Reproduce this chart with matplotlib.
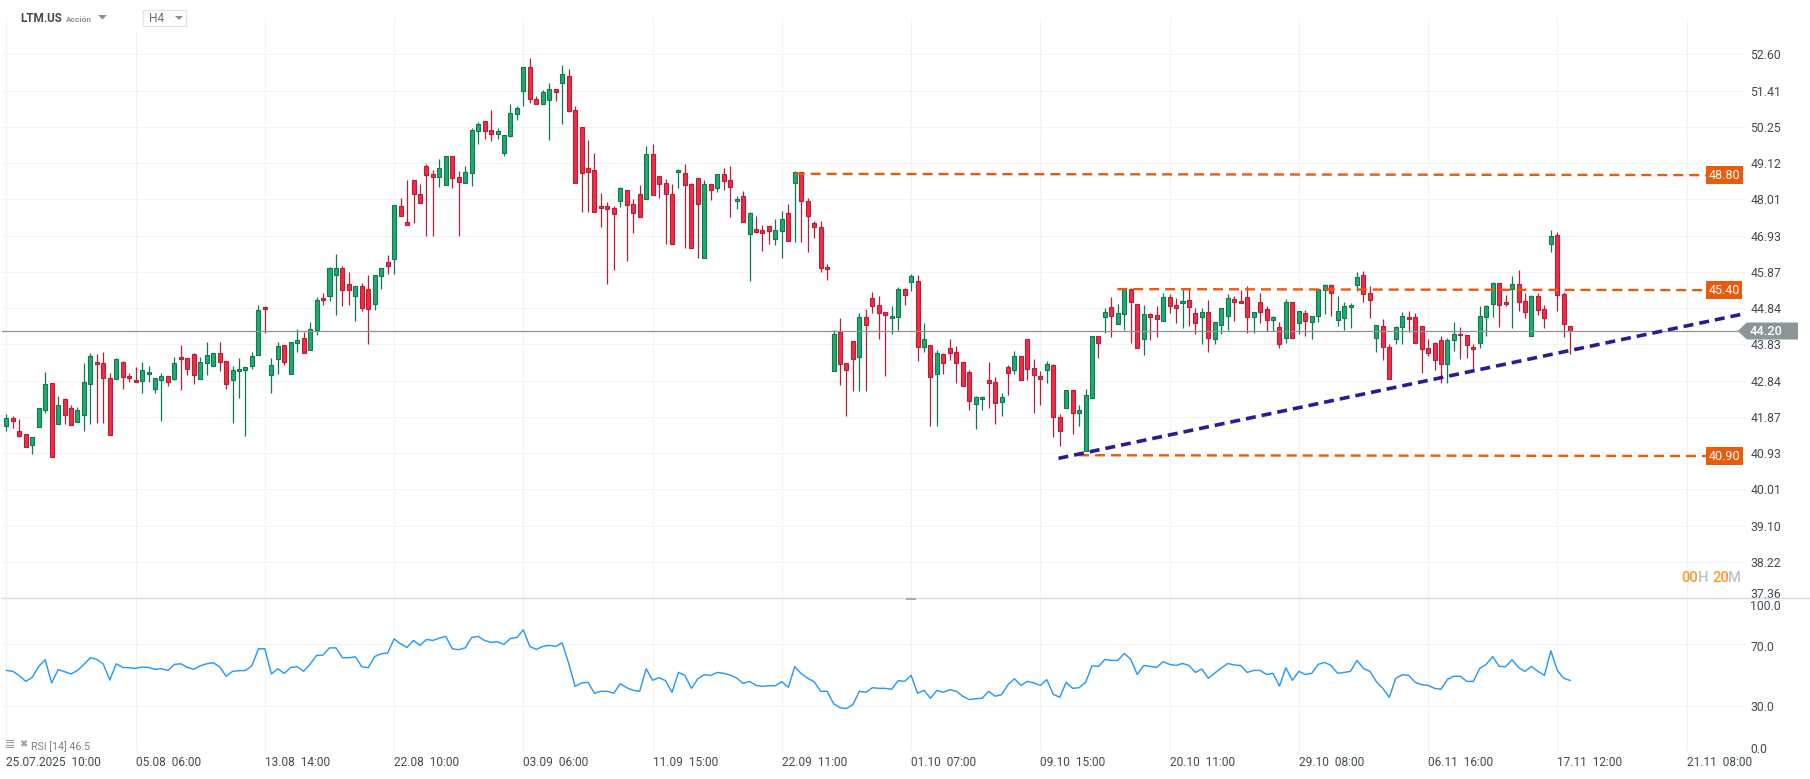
# -*- coding: utf-8 -*-
import numpy as np
import matplotlib
matplotlib.use('Agg')
import matplotlib.pyplot as plt
from matplotlib.patches import Polygon, Rectangle
from matplotlib.transforms import ScaledTranslation

opens = [41.64,41.84,41.50,41.43,41.14,41.61,42.06,42.79,41.69,42.35,
         42.11,41.74,41.92,42.76,43.35,43.32,42.92,42.90,43.35,42.98,
         42.87,42.84,43.03,42.62,42.87,42.98,42.90,43.48,43.46,43.56,
         42.90,43.32,43.24,43.59,43.38,42.87,43.11,43.14,43.24,43.54,
         44.87,43.00,43.43,43.80,43.03,43.86,44.02,43.67,44.22,45.13,
         45.19,45.78,45.98,45.53,45.19,45.47,45.39,44.95,45.76,46.16,
         46.25,47.80,47.32,48.59,48.16,49.03,48.78,48.69,48.44,49.33,
         48.69,48.50,48.81,50.13,50.44,50.16,50.04,49.42,49.96,50.67,
         51.41,52.17,51.15,50.99,51.12,51.47,51.64,51.87,50.80,50.25,
         48.97,48.90,47.80,47.80,47.74,47.95,48.29,47.86,48.16,48.01,
         49.39,48.72,48.50,48.19,48.84,48.81,48.47,48.66,46.27,48.47,
         48.35,48.78,48.59,47.95,48.10,46.99,47.14,47.11,47.22,46.84,
         47.08,47.59,48.50,48.84,47.95,47.29,47.20,46.01,43.11,44.16,
         43.32,43.92,43.48,44.59,45.13,44.93,44.73,44.56,44.59,45.39,
         45.59,45.61,43.75,43.80,43.03,43.56,43.72,43.62,43.35,43.08,
         42.22,42.35,42.87,42.81,42.27,43.22,43.14,43.51,43.99,43.19,
         42.98,43.14,43.27,41.87,42.11,42.60,41.97,40.98,42.38,44.05,
         44.59,44.87,44.39,44.67,45.39,44.95,43.97,44.67,44.64,44.47,
         45.16,44.93,44.98,45.07,44.70,44.59,44.73,43.99,44.36,44.61,
         45.10,45.04,45.16,44.59,45.01,44.81,44.50,44.30,44.02,45.01,
         44.42,44.70,44.45,44.61,45.36,45.50,44.50,44.56,44.87,45.50,
         45.78,45.27,44.02,44.33,43.75,43.97,44.30,44.59,44.59,44.33,
         43.72,43.86,43.94,43.30,43.94,44.13,44.10,43.75,43.86,44.59,
         44.95,45.56,45.01,45.39,45.53,45.04,44.05,45.19,44.81,46.67,
         46.96,45.24,44.33]

highs = [41.95,41.91,41.82,41.43,41.35,42.11,43.08,42.79,42.43,42.38,
         42.19,42.14,43.31,43.59,43.57,43.63,43.04,43.46,43.38,43.04,
         43.20,43.35,43.24,42.92,43.06,42.98,43.48,43.80,43.46,43.59,
         43.48,43.90,43.59,43.90,43.38,43.24,43.46,43.22,43.62,44.93,
         44.90,43.46,43.90,43.80,43.89,44.25,44.18,44.45,45.16,45.27,
         46.01,46.39,46.04,45.87,45.47,45.56,45.78,45.78,45.98,46.36,
         47.83,48.04,48.59,48.59,48.47,49.09,48.90,49.24,49.33,49.33,
         48.87,49.03,50.22,50.41,50.44,50.80,50.22,50.01,50.99,50.90,
         52.17,52.47,51.25,51.44,51.64,51.47,52.24,52.11,50.90,50.25,
         49.85,49.42,48.22,47.92,47.80,48.38,48.29,48.01,48.44,49.64,
         49.70,48.72,48.63,48.47,48.93,49.09,48.50,48.66,48.59,48.47,
         48.78,48.97,49.03,48.10,48.26,47.62,47.50,47.26,47.22,47.41,
         47.65,47.86,48.87,48.84,48.04,47.35,47.35,46.10,44.22,44.56,
         43.32,43.92,44.70,44.81,45.30,45.19,44.73,44.90,45.44,45.41,
         45.81,45.78,44.42,43.80,43.67,43.59,43.98,43.78,43.35,43.14,
         42.43,42.43,43.35,42.95,42.52,43.27,43.64,43.51,43.99,43.43,
         43.11,43.38,43.30,41.95,42.60,42.60,42.19,42.62,44.05,44.05,
         44.84,45.16,44.95,45.41,45.41,44.95,44.93,44.70,44.90,45.27,
         45.24,45.13,45.39,45.41,44.84,44.84,45.07,44.45,44.84,45.24,
         45.19,45.36,45.47,44.73,45.27,44.90,44.61,44.45,45.10,45.01,
         44.76,44.78,44.61,45.39,45.53,45.53,45.19,45.01,44.98,45.87,
         45.90,45.47,44.36,44.53,43.83,44.33,44.73,44.76,44.70,44.33,
         43.98,43.89,44.05,44.02,44.45,44.30,44.10,43.83,44.90,44.93,
         45.59,45.56,45.21,45.76,45.93,45.27,45.21,45.27,44.93,47.11,
         47.05,45.30,44.33]

lows = [41.50,41.59,41.34,41.09,40.92,41.61,41.97,40.83,41.69,41.70,
        41.66,41.74,41.50,41.70,41.73,41.73,41.40,42.90,42.62,42.81,
        42.81,42.51,42.80,42.51,41.78,42.70,42.86,42.59,42.99,42.75,
        42.90,42.99,43.24,43.10,42.62,41.73,42.37,41.37,43.15,43.54,
        44.15,42.51,43.02,43.26,43.03,43.63,43.59,43.67,44.10,44.92,
        45.03,44.64,44.89,44.94,44.49,44.75,43.85,44.80,45.38,45.80,
        45.80,47.50,47.26,47.31,47.89,46.92,46.92,48.40,48.44,48.37,
        46.92,48.50,48.43,49.72,49.87,49.81,49.87,49.35,49.93,50.47,
        50.92,51.01,50.99,50.99,49.84,51.08,50.34,50.73,48.50,47.64,
        47.64,47.62,47.19,45.52,45.92,47.79,46.18,47.01,47.47,48.01,
        48.13,48.06,46.69,46.67,48.37,46.58,46.56,46.29,46.27,48.00,
        48.24,48.30,47.49,47.73,47.32,45.60,47.01,46.49,46.69,46.66,
        46.29,46.76,46.75,46.75,46.44,46.86,45.86,45.63,43.11,42.72,
        41.91,42.56,42.56,42.56,44.71,43.99,42.97,44.13,44.24,44.94,
        45.32,43.38,43.61,41.63,41.63,43.03,43.40,42.78,42.71,42.05,
        41.57,42.05,42.10,41.70,41.89,42.45,43.03,42.87,42.86,41.97,
        42.19,42.78,41.34,41.13,42.11,41.44,41.65,40.98,42.38,43.45,
        44.15,44.04,44.39,44.24,43.88,43.72,43.55,43.96,44.04,44.47,
        44.69,44.41,44.27,44.35,44.11,43.85,43.63,43.85,44.11,44.24,
        44.49,44.98,44.14,44.14,44.41,44.19,44.19,43.74,43.88,44.02,
        44.13,44.07,43.99,44.46,44.67,44.63,44.35,44.24,44.29,45.32,
        45.00,44.55,43.63,43.39,42.90,43.85,43.85,44.16,43.86,43.05,
        43.50,43.13,42.79,42.79,43.66,43.42,43.45,43.14,43.74,44.07,
        44.60,44.32,44.90,44.29,44.77,44.55,44.05,44.66,44.27,46.46,
        44.75,44.04,43.56]

closes = [41.84,41.77,41.39,41.09,41.35,42.11,42.76,40.83,42.19,41.92,
          41.66,42.06,42.81,43.51,43.30,42.92,41.40,43.43,42.95,42.92,
          42.81,43.14,43.08,42.92,42.98,42.81,43.32,43.43,43.16,43.00,
          43.35,43.54,43.59,43.35,42.76,43.14,43.16,43.22,43.51,44.78,
          44.81,43.27,43.78,43.35,43.89,43.94,43.59,44.25,45.07,45.06,
          45.98,45.98,45.36,45.36,45.47,44.84,44.81,45.78,45.98,46.04,
          47.83,47.50,47.26,48.16,47.89,48.75,48.69,48.97,49.33,48.66,
          48.55,48.84,50.16,50.35,50.13,50.04,50.13,50.01,50.70,50.86,
          52.17,51.15,50.99,51.35,51.47,51.38,51.94,50.77,48.50,48.81,
          48.84,47.62,47.74,47.71,47.56,48.35,47.83,47.59,47.47,49.39,
          48.13,48.47,48.16,46.67,48.90,48.44,46.56,47.86,48.47,48.31,
          48.78,48.56,48.38,48.01,47.32,47.59,47.05,47.01,47.08,47.11,
          47.41,46.76,48.84,47.95,47.50,47.20,45.98,45.96,44.12,43.30,
          43.14,43.43,44.59,44.36,44.90,44.70,44.64,44.61,45.39,45.21,
          45.76,43.75,43.99,42.95,43.59,43.32,43.59,43.32,42.71,42.30,
          42.41,42.41,42.79,42.25,42.41,43.06,43.51,42.87,43.16,43.00,
          42.90,43.30,41.87,41.50,42.60,41.97,42.06,42.46,44.05,43.86,
          44.73,44.61,44.70,45.39,45.01,43.72,44.67,44.59,44.53,45.16,
          44.90,44.84,45.04,44.87,44.42,44.73,44.02,44.45,44.84,45.13,
          45.01,44.98,44.59,44.73,44.73,44.50,44.59,43.83,45.01,44.02,
          44.76,44.47,44.61,45.39,45.50,45.27,44.76,44.90,44.93,45.73,
          45.24,45.07,44.36,43.75,42.90,44.30,44.61,44.53,43.86,43.70,
          43.59,43.40,43.30,43.94,44.13,44.08,43.80,43.70,44.61,44.90,
          45.56,44.93,44.95,45.53,45.01,44.73,45.19,44.78,44.56,46.93,
          45.21,44.39,44.20]

rsi = [53.0,52.4,49.6,45.9,48.5,55.6,59.9,44.9,53.5,52.2,
       50.7,53.0,56.9,61.2,60.1,57.1,46.8,57.3,54.9,54.7,
       54.3,55.2,54.9,53.7,54.1,53.0,56.9,57.3,54.9,53.7,
       56.0,57.3,58.0,55.4,49.2,52.4,52.8,53.0,56.0,67.0,
       67.0,50.7,54.1,51.1,54.9,55.4,52.4,57.1,62.7,62.9,
       67.6,67.6,61.2,61.2,61.8,55.4,54.7,62.0,63.8,64.2,
       73.4,70.2,67.9,72.4,69.2,73.0,72.4,73.9,75.0,67.0,
       66.4,67.6,74.3,75.0,72.4,71.1,71.5,69.8,73.7,74.3,
       79.3,68.5,66.6,68.5,69.2,68.5,70.9,57.8,42.7,44.9,
       45.3,38.2,39.5,39.5,38.2,44.4,41.8,40.1,39.5,54.1,
       46.6,48.3,46.4,38.8,51.7,49.8,41.4,47.6,50.2,49.8,
       51.7,51.1,50.0,48.1,44.6,45.9,43.3,42.7,43.1,43.1,
       45.7,42.1,55.4,50.9,47.9,45.7,39.5,39.5,31.5,28.9,
       28.3,30.9,39.5,38.8,41.8,41.4,41.4,40.8,46.4,45.9,
       49.8,38.2,40.1,35.0,40.1,38.8,40.5,39.5,36.3,34.1,
       34.7,35.0,39.5,36.3,37.3,43.8,47.6,43.3,45.9,44.9,
       43.3,47.0,37.5,35.6,45.3,41.4,41.8,45.3,56.0,55.6,
       60.1,59.5,59.5,64.0,60.1,50.4,56.2,55.6,54.9,58.6,
       56.9,56.2,57.5,56.2,51.7,53.9,47.9,51.3,54.5,57.5,
       56.5,56.2,51.7,53.0,53.0,50.4,51.1,42.9,54.7,46.6,
       52.4,50.4,51.1,56.9,58.2,56.2,51.1,51.7,52.4,59.5,
       54.3,52.4,45.7,41.4,35.6,47.9,50.2,49.8,45.3,43.8,
       43.3,41.4,40.8,47.2,49.2,49.2,45.9,45.9,54.3,56.9,
       62.0,55.6,55.4,59.9,54.9,52.4,55.6,52.4,49.8,65.7,
       53.0,47.9,46.5]

price_ticks = [52.60, 51.41, 50.25, 49.12, 48.01, 46.93, 45.87, 44.84, 43.83,
               42.84, 41.87, 40.93, 40.01, 39.10, 38.22, 37.36]
rsi_ticks = [100, 70, 30, 0]
time_ticks = list(range(0, 261, 20))
time_labels = ['25.07.2025  10:00', '05.08  06:00', '13.08  14:00', '22.08  10:00',
               '03.09  06:00', '11.09  15:00', '22.09  11:00', '01.10  07:00',
               '09.10  15:00', '20.10  11:00', '29.10  08:00', '06.11  16:00',
               '17.11  12:00', '21.11  08:00']

last_price = 44.20
level_labels = ['48.80', '45.40', '40.90']
level_start_x = [122, 171.9, 166]
level_end_x = 263.0
level_start = [48.79, 45.38, 40.88]
level_end = [48.75, 45.35, 40.86]
trend_x = [162.8, 268.6]
trend_y = [40.80, 44.67]

W, H = 1810, 779
TXT = '#414b52'
plt.rcParams['font.family'] = ['Roboto', 'DejaVu Sans']
plt.rcParams['lines.scale_dashes'] = False


def rect_px(left, top, right, bottom):
    return [left / W, 1 - bottom / H, (right - left) / W, (bottom - top) / H]


def fx(x):
    return x / W


def fy(y):
    return 1 - y / H


fig = plt.figure(figsize=(W / 100, H / 100), dpi=100)
ax = fig.add_axes(rect_px(2, 18, 1746, 598.5))
ax2 = fig.add_axes(rect_px(2, 597.8, 1746, 752.3))

x = np.arange(len(opens))
o, h, l, c = map(np.array, (opens, highs, lows, closes))
up = c >= o

ax.vlines(x[up], l[up], h[up], color='#0f7a52', lw=0.9, zorder=2)
ax.vlines(x[~up], l[~up], h[~up], color='#b3203a', lw=0.9, zorder=2)
ax.bar(x[up], (c - o)[up], bottom=o[up], width=0.62, color='#20ab6e',
       edgecolor='#0f7a52', linewidth=0.8, zorder=3)
ax.bar(x[~up], (o - c)[~up], bottom=c[~up], width=0.62, color='#f82a40',
       edgecolor='#b3203a', linewidth=0.8, zorder=3)

ax.set_yscale('log')
ax.set_ylim(37.36, 53.81)
ax.set_xlim(-0.68, 269.2)
ax.set_yticks(price_ticks)
ax.set_yticklabels(['%.2f' % t for t in price_ticks])
ax.minorticks_off()
ax.set_xticks(time_ticks)
ax.tick_params(axis='x', length=0, labelbottom=False)
ax.yaxis.tick_right()
ax.tick_params(axis='y', which='both', length=0, pad=3, labelsize=8.8, labelcolor=TXT)
ax.grid(True, color='#f2f3f4', lw=0.8)
ax.set_axisbelow(True)
for s in ax.spines.values():
    s.set_visible(False)
ax.patch.set_alpha(0)

# the bottom label sits higher than its grid line
labs = ax.get_yticklabels()
labs[-1].set_transform(labs[-1].get_transform() + ScaledTranslation(0, 5 / 100, fig.dpi_scale_trans))

ax.axhline(last_price, color='#8a9396', lw=0.9, zorder=4)

for i in range(3):
    ax.plot([level_start_x[i], level_end_x], [level_start[i], level_end[i]],
            color='#ea5c0c', lw=1.7, ls=(0, (7.2, 4.3)), zorder=5)
    ax.text(level_end_x + 0.4, level_end[i], level_labels[i], color='white', fontsize=9,
            ha='left', va='center', zorder=6,
            bbox=dict(boxstyle='square,pad=0.2', fc='#ea5c0c', ec='none'))

ax.plot(trend_x, trend_y, color='#2f1a96', lw=2.6, ls=(0, (7.2, 4.3)), zorder=5)

# RSI panel
ax2.plot(x, rsi, color='#2a9bf5', lw=1.05)
ax2.set_ylim(0, 100)
ax2.set_xlim(-0.68, 269.2)
ax2.set_yticks(rsi_ticks)
ax2.set_yticklabels(['%.1f' % t for t in rsi_ticks])
ax2.yaxis.tick_right()
ax2.tick_params(axis='y', length=0, pad=3, labelsize=8.8, labelcolor=TXT)
ax2.set_xticks(time_ticks)
ax2.set_xticklabels(time_labels, ha='left')
ax2.tick_params(axis='x', length=0, pad=3, labelsize=8.6, labelcolor=TXT)
ax2.grid(True, color='#f2f3f4', lw=0.8)
ax2.set_axisbelow(True)
for s in ax2.spines.values():
    s.set_visible(False)
ax2.patch.set_alpha(0)
labs = ax2.get_yticklabels()
labs[0].set_transform(labs[0].get_transform() + ScaledTranslation(0, -7 / 100, fig.dpi_scale_trans))
labs[3].set_transform(labs[3].get_transform() + ScaledTranslation(0, 4 / 100, fig.dpi_scale_trans))
labs[1].set_transform(labs[1].get_transform() + ScaledTranslation(0, -2 / 100, fig.dpi_scale_trans))

fig.text(fx(5), fy(744), '≣', color='#9a9fa3', fontsize=9, va='center', family=['DejaVu Sans'])
fig.text(fx(19.5), fy(744), '✖', color='#9a9fa3', fontsize=7, va='center', family=['DejaVu Sans'])
fig.text(fx(31), fy(747), 'RSI [14] %.1f' % rsi[-1], color='#7a8084', fontsize=7.7, va='center')

# panel separator and its grip
fig.add_artist(plt.Line2D([fx(2), 1], [fy(598.3), fy(598.3)], color='#d9dadb', lw=1.0, zorder=3))
fig.add_artist(Rectangle((fx(906), fy(600)), 10 / W, 2.5 / H, transform=fig.transFigure,
                         fc='#a9acae', ec='none', zorder=4))

# last price tag
py = ax.transData.transform((0, last_price))[1]
tip = 1737.7
pts = [(tip, py), (1746.7, py + 8.5), (1798, py + 8.5), (1798, py - 8.5), (1746.7, py - 8.5)]
fig.add_artist(Polygon([(a / W, b / H) for a, b in pts], transform=fig.transFigure,
                       fc='#8c9699', ec='none', zorder=5))
fig.text(fx(1750), py / H, '%.2f' % last_price, color='white', fontsize=9.2, fontweight='medium',
         va='center', ha='left', zorder=6)

# header
fig.add_artist(Rectangle((fx(130), fy(32)), 12 / W, 16 / H, transform=fig.transFigure,
                         fc='white', ec='none', zorder=1))
fig.text(fx(20), fy(18.5), 'LTM.US', color='#414b52', fontsize=8.4, fontweight='bold', va='center')
fig.text(fx(66), fy(19.5), 'Acción', color='#8c9296', fontsize=6.0, fontweight='bold', va='center')
tri = [(98, 15), (107, 15), (102.5, 19.5)]
fig.add_artist(Polygon([(fx(a), fy(b)) for a, b in tri], transform=fig.transFigure,
                       fc='#8c9296', ec='none', zorder=3))
fig.add_artist(Rectangle((fx(143), fy(25.5)), 43 / W, 15 / H, transform=fig.transFigure,
                         fc='white', ec='#e3e5e6', lw=0.9, zorder=2))
fig.text(fx(149), fy(18.5), 'H4', color='#6a7074', fontsize=8.6, va='center', zorder=3)
tri = [(175, 16), (183, 16), (179, 20)]
fig.add_artist(Polygon([(fx(a), fy(b)) for a, b in tri], transform=fig.transFigure,
                       fc='#8c9296', ec='none', zorder=3))

# candle countdown
for tx, s, col in [(1681.5, '00', '#ff9a1f'), (1697.5, 'H', '#bfc3c6'),
                   (1712.5, '20', '#ff9a1f'), (1728, 'M', '#bfc3c6')]:
    fig.text(fx(tx), fy(578.3), s, color=col, fontsize=10.6, fontweight='medium', va='center', zorder=3)

fig.savefig('out.png', dpi=100, facecolor='white')
